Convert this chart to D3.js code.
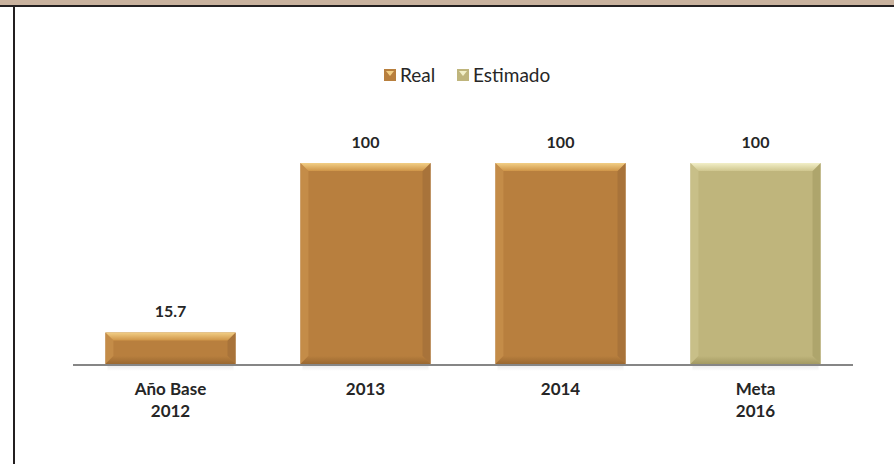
<!DOCTYPE html>
<html><head><meta charset="utf-8">
<script src="https://cdn.jsdelivr.net/npm/d3@7"></script>
<style>body{margin:0;background:#fff}svg{display:block}</style>
</head><body>
<script>
const categories = [["Año Base","2012"],["2013"],["2014"],["Meta","2016"]];
const values = [15.7, 100, 100, 100];
const series = ["Real","Real","Real","Estimado"];
const legendNames = ["Real","Estimado"];

const W=894,H=464;
const svg=d3.select("body").append("svg").attr("width",W).attr("height",H);
const font="Lato, 'Open Sans', sans-serif";

// frame
svg.append("rect").attr("x",0).attr("y",0).attr("width",W).attr("height",5).attr("fill","#c9b29e");
svg.append("rect").attr("x",0).attr("y",5).attr("width",W).attr("height",2).attr("fill","#231f20");
svg.append("rect").attr("x",13).attr("y",7).attr("width",2).attr("height",H-7).attr("fill","#231f20");

const x=d3.scaleBand().domain(d3.range(categories.length)).range([73,853]).paddingInner(0.333).paddingOuter(0.1665);
const y=d3.scaleLinear().domain([0,100]).range([364,163]);

const pal={Real:{main:"#b87f3e",top1:"#f2cf86",top2:"#cf9548",left:"#c48c48",right:"#a8733a",bottom:"#9a6830"},
           Estimado:{main:"#bfb57c",top1:"#f2efc8",top2:"#cfc68e",left:"#c8bf88",right:"#aea56c",bottom:"#a39a62"}};

const defs=svg.append("defs");
Object.entries(pal).forEach(([k,c])=>{
  const gr=defs.append("linearGradient").attr("id","top"+k).attr("x1",0).attr("x2",0).attr("y1",0).attr("y2",1);
  gr.append("stop").attr("offset",0).attr("stop-color",c.top1);
  gr.append("stop").attr("offset",1).attr("stop-color",c.top2);
  const gb=defs.append("linearGradient").attr("id","bot"+k).attr("x1",0).attr("x2",0).attr("y1",0).attr("y2",1);
  gb.append("stop").attr("offset",0).attr("stop-color",c.main);
  gb.append("stop").attr("offset",1).attr("stop-color",c.bottom);
});
const shadow=defs.append("linearGradient").attr("id","shadow").attr("x1",0).attr("x2",0).attr("y1",0).attr("y2",1);
shadow.append("stop").attr("offset",0).attr("stop-color","#000").attr("stop-opacity",0.08);
shadow.append("stop").attr("offset",1).attr("stop-color","#000").attr("stop-opacity",0);

const g=svg.append("g");
values.forEach((v,i)=>{
  const x0=x(i),x1=x0+x.bandwidth(),y0=y(v),y1=y(0);
  const c=pal[series[i]];
  const b=Math.min(8,(y1-y0)/3);
  g.append("rect").attr("x",x0+2).attr("y",y1+1).attr("width",x1-x0-4).attr("height",6).attr("fill","url(#shadow)");
  g.append("rect").attr("x",x0).attr("y",y0).attr("width",x1-x0).attr("height",y1-y0).attr("fill",c.main);
  const poly=(pts,f)=>g.append("polygon").attr("points",pts.map(p=>p.join(",")).join(" ")).attr("fill",f);
  poly([[x0,y0],[x0+b,y0+b],[x0+b,y1-b],[x0,y1]],c.left);
  poly([[x1,y0],[x1,y1],[x1-b,y1-b],[x1-b,y0+b]],c.right);
  poly([[x0,y1],[x0+b,y1-b],[x1-b,y1-b],[x1,y1]],"url(#bot"+series[i]+")");
  poly([[x0,y0],[x1,y0],[x1-b,y0+b],[x0+b,y0+b]],"url(#top"+series[i]+")");
  g.append("text").attr("x",x0+x.bandwidth()/2).attr("y",y0-15).attr("text-anchor","middle")
   .attr("font-family",font).attr("font-weight","bold").attr("font-size",16).attr("fill","#262626").text(v);
});

// axis baseline
svg.append("line").attr("x1",73).attr("x2",853).attr("y1",365).attr("y2",365).attr("stroke","#868686").attr("stroke-width",2);

// category labels
categories.forEach((lines,i)=>{
  const t=svg.append("text").attr("x",x(i)+x.bandwidth()/2).attr("y",395).attr("text-anchor","middle")
   .attr("font-family",font).attr("font-weight","bold").attr("font-size",17).attr("fill","#262626");
  lines.forEach((l,j)=>t.append("tspan").attr("x",x(i)+x.bandwidth()/2).attr("dy",j?22:0).text(l));
});

// legend
const lg=svg.append("g").attr("font-family",font).attr("font-size",19).attr("fill","#262626");
const lx=[384,457];
legendNames.forEach((n,i)=>{
  const c=pal[n];
  const gx=lx[i],gy=69,s=12;
  lg.append("rect").attr("x",gx).attr("y",gy).attr("width",s).attr("height",s).attr("fill",c.main);
  lg.append("polygon").attr("points",`${gx+2},${gy+2} ${gx+s-2},${gy+2} ${gx+s/2},${gy+s/2+1}`).attr("fill",c.top1);
  lg.append("text").attr("x",gx+s+4).attr("y",gy+13).text(n);
});
</script>
</body></html>
